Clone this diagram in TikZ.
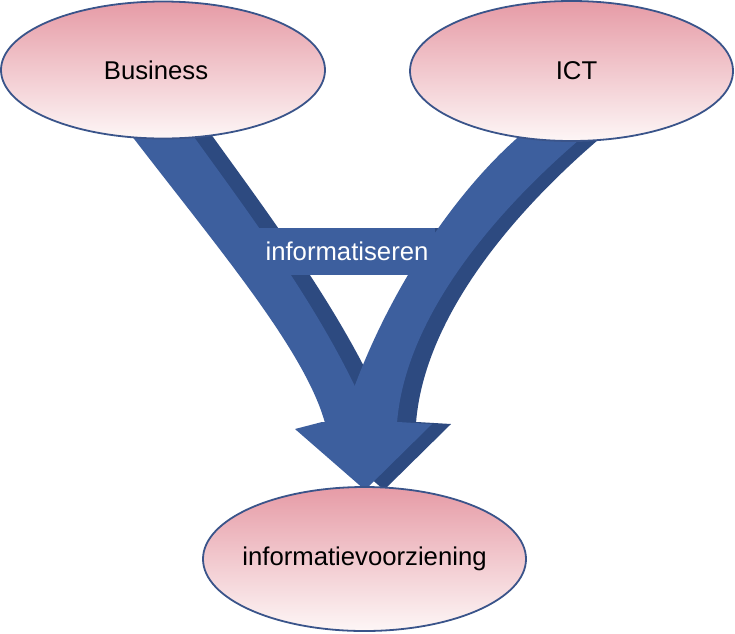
\documentclass[tikz,border=0pt]{standalone}
\usepackage{fontspec}
\setmainfont{Liberation Sans}
\usepackage{tikz}
\usepackage{xcolor}
\usetikzlibrary{shapes.geometric}

\definecolor{pijlblauw}{RGB}{61,95,158}
\definecolor{pijlschaduw}{RGB}{45,74,128}
\definecolor{ovaalrand}{RGB}{58,84,138}
\definecolor{ovaalboven}{RGB}{230,155,166}
\definecolor{ovaalonder}{RGB}{253,246,246}

\newcommand{\pijlvorm}[1]{%
\fill[#1] (128,131) .. controls (217,247) and (305,350) .. (325,423) -- (372,425) .. controls (330,320) and (250,215) .. (189,130) -- cycle;
\fill[#1] (523,133) .. controls (450,195) and (375,310) .. (340,430) -- (397,423) .. controls (405,320) and (490,215) .. (586,134) -- cycle;
\fill[#1] (245,228) rectangle (435,275);
\fill[#1] (322,422) -- (295,429) -- (365,490) -- (432,424) -- (398,422) -- cycle;
}

\tikzset{
  groottekst/.style={font=\fontsize{25.7pt}{30pt}\selectfont},
  ovaal/.style={ellipse,draw=ovaalrand,line width=1.8pt,top color=ovaalboven,bottom color=ovaalonder,inner sep=-14pt,groottekst}
}

\begin{document}
\begin{tikzpicture}[x=1pt,y=-1pt]
\useasboundingbox (0,0) rectangle (735,633);
\begin{scope}[xshift=19pt]
\pijlvorm{pijlschaduw}
\end{scope}
\pijlvorm{pijlblauw}
\node[groottekst,white] (informatiseren) at (347,251) {informatiseren};
\node[ovaal,minimum width=324pt,minimum height=137pt] (business) at (163,70) {\hspace*{-14pt}Business};
\node[ovaal,minimum width=323pt,minimum height=140pt] (ict) at (571.5,71) {\hspace*{10pt}ICT};
\node[ovaal,minimum width=323pt,minimum height=144pt] (voorziening) at (364.5,559) {informatievoorziening};
\end{tikzpicture}
\end{document}
